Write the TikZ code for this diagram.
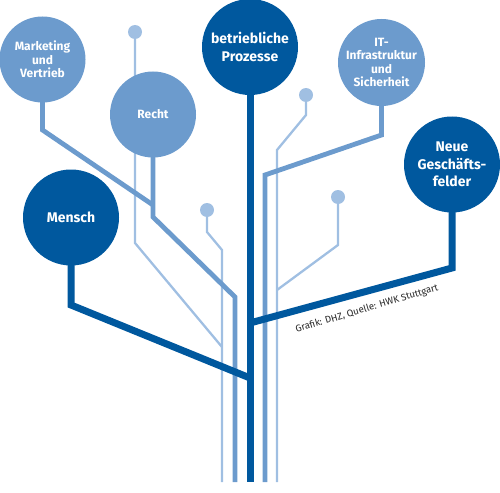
\documentclass[tikz,border=0pt]{standalone}
\usepackage{fontspec}
\setmainfont{Fira Sans}
\definecolor{dblue}{RGB}{0,88,158}
\definecolor{mblue}{RGB}{108,155,205}
\definecolor{lblue}{RGB}{160,191,226}
\pgfdeclarelayer{background}
\pgfsetlayers{background,main}
\begin{document}
\begin{tikzpicture}[x=1pt,y=-1pt,
  bigc/.style={circle,fill=dblue,minimum size=96pt,inner sep=0pt,text=white,align=center,font=\bfseries\fontsize{14}{17.5}\selectfont},
  smc/.style={circle,fill=mblue,minimum size=86pt,inner sep=0pt,text=white,align=center,font=\bfseries\fontsize{12}{13.6}\selectfont},
  dotc/.style={circle,fill=lblue,minimum size=14pt,inner sep=0pt},
  darkline/.style={draw=dblue,line width=7pt,line join=miter},
  medline/.style={draw=mblue,line width=4.8pt,line join=miter},
  thinline/.style={draw=lblue,line width=2.3pt,line join=miter}]
\useasboundingbox (0,0) rectangle (500,492);
% circles
\node[smc] (mkt) at (42.5,59.5) {Marketing\\und\\Vertrieb};
\node[smc] (recht) at (153,114.5) {Recht};
\node[bigc] (mensch) at (71,217.5) {Mensch};
\node[bigc] (proz) at (250,47) {\raisebox{0pt}{betriebliche}\\Prozesse};
\node[smc,minimum size=87pt] (it) at (381.5,62.5) {IT-\\Infrastruktur\\und\\Sicherheit};
\node[bigc] (neue) at (452,164.5) {Neue\\Geschäfts-\\felder};
% small dots
\node[dotc] (d1) at (135,32) {};
\node[dotc] (d2) at (207,210) {};
\node[dotc] (d3) at (306,95) {};
\node[dotc] (d4) at (338,197) {};
% bend points
\coordinate (mk1) at (42.5,130);
\coordinate (mk2) at (153,205);
\coordinate (r1) at (153,217);
\coordinate (r2) at (235,297);
\coordinate (r3) at (235,482);
\coordinate (a1) at (135,243);
\coordinate (a2) at (222,347);
\coordinate (b1) at (207,232);
\coordinate (b2) at (222,250);
\coordinate (b3) at (222,482);
\coordinate (m1) at (71,305);
\coordinate (m2) at (250,378);
\coordinate (p1) at (250,482);
\coordinate (n1) at (452,268);
\coordinate (n2) at (250,323);
\coordinate (i1) at (381.5,135);
\coordinate (i2) at (265,175);
\coordinate (i3) at (265,482);
\coordinate (c1) at (306,115);
\coordinate (c2) at (277,150);
\coordinate (c3) at (277,482);
\coordinate (e1) at (338,245);
\coordinate (e2) at (277,290);
\begin{pgfonlayer}{background}
\draw[thinline] (d1.center) -- (a1) -- (a2);
\draw[thinline] (d2.center) -- (b1) -- (b2) -- (b3);
\draw[thinline] (d3.center) -- (c1) -- (c2) -- (c3);
\draw[thinline] (d4.center) -- (e1) -- (e2);
\draw[medline] (mkt.center) -- (mk1) -- (mk2);
\draw[medline] (recht.center) -- (r1) -- (r2) -- (r3);
\draw[medline] (it.center) -- (i1) -- (i2) -- (i3);
\draw[darkline] (mensch.center) -- (m1) -- (m2);
\draw[darkline] (neue.center) -- (n1) -- (n2);
\draw[darkline] (proz.center) -- (p1);
\end{pgfonlayer}
\node[rotate=16.5,inner sep=0pt,text=black!85,font=\fontsize{9.6}{11}\selectfont] (credit) at (367,309) {Grafik: DHZ, Quelle: HWK Stuttgart};
\end{tikzpicture}
\end{document}
